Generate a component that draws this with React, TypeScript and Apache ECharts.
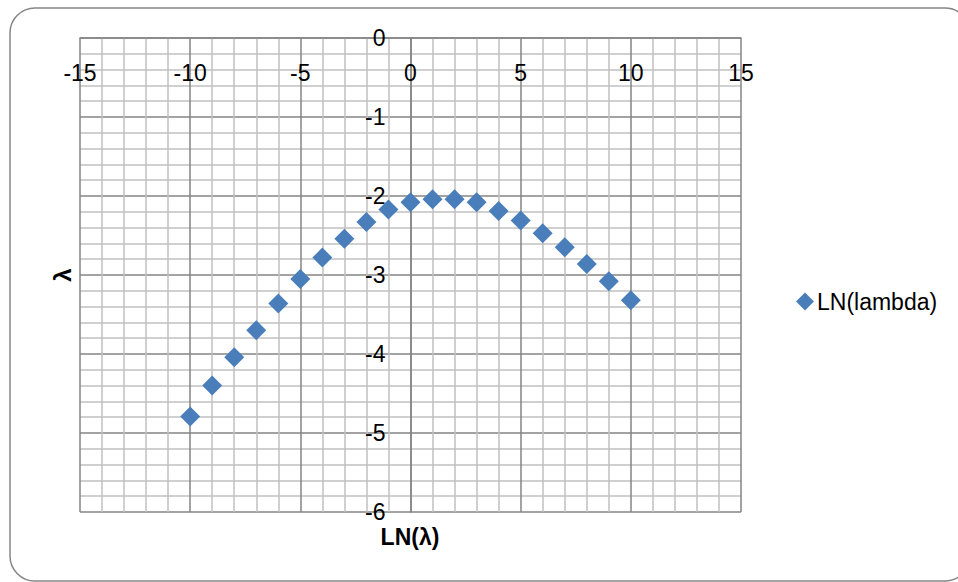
import React, { useEffect, useRef } from "react";
import * as echarts from "echarts";

const xValues: number[] = [-10, -9, -8, -7, -6, -5, -4, -3, -2, -1, 0, 1, 2, 3, 4, 5, 6, 7, 8, 9, 10];
const yValues: number[] = [
  -4.79, -4.4, -4.04, -3.7, -3.36, -3.05, -2.78, -2.54, -2.33, -2.17, -2.08,
  -2.04, -2.04, -2.08, -2.19, -2.31, -2.47, -2.65, -2.86, -3.08, -3.32,
];
const seriesName = "LN(lambda)";
const xTitle = "LN(λ)";
const yTitle = "λ";
const xRange: [number, number] = [-15, 15];
const yRange: [number, number] = [-6, 0];

const FONT = "'Liberation Sans', Arial, sans-serif";
const MAJOR = "#858585";
const MINOR = "#c0c0c0";
const BLUE = "#4a7ebb";

const GRID_LEFT = 80;
const GRID_TOP = 38;
const GRID_W = 661;
const GRID_H = 474;

export default function App() {
  const ref = useRef<HTMLDivElement>(null);
  useEffect(() => {
    if (!ref.current) return;
    const chart = echarts.init(ref.current, null, { renderer: "svg" });
    const data = xValues.map((x, i) => [x, yValues[i]]);
    // y axis crosses at x = 0: shift it from the grid's left edge
    const yAxisShift = ((0 - xRange[0]) / (xRange[1] - xRange[0])) * GRID_W;
    chart.setOption({
      animation: false,
      backgroundColor: "#ffffff",
      textStyle: { fontFamily: FONT },
      grid: { left: GRID_LEFT, top: GRID_TOP, width: GRID_W, height: GRID_H, containLabel: false },
      xAxis: {
        type: "value",
        min: xRange[0],
        max: xRange[1],
        interval: 5,
        position: "top",
        axisLine: { show: true, onZero: false, lineStyle: { color: MAJOR, width: 1.5 } },
        axisTick: { show: false },
        axisLabel: { color: "#000", fontSize: 23, fontFamily: FONT, margin: 23, inside: true },
        splitLine: { show: true, lineStyle: { color: MAJOR, width: 1.5 } },
        minorTick: { show: false, splitNumber: 5 },
        minorSplitLine: { show: true, lineStyle: { color: MINOR, width: 1.5 } },
      },
      yAxis: {
        type: "value",
        min: yRange[0],
        max: yRange[1],
        interval: 1,
        position: "left",
        offset: -yAxisShift,
        axisLine: { show: true, onZero: false, lineStyle: { color: MAJOR, width: 1.5 } },
        axisTick: { show: false },
        axisLabel: { color: "#000", fontSize: 23, fontFamily: FONT, margin: 25 },
        splitLine: { show: true, lineStyle: { color: MAJOR, width: 1.5 } },
        minorTick: { show: false, splitNumber: 5 },
        minorSplitLine: { show: true, lineStyle: { color: MINOR, width: 1.5 } },
      },
      legend: {
        show: true,
        orient: "vertical",
        left: 791,
        top: 285,
        icon: "diamond",
        itemWidth: 18,
        itemHeight: 18,
        itemGap: 5,
        itemStyle: { opacity: 1 },
        textStyle: { color: "#000", fontSize: 23, fontFamily: FONT, padding: [0, 0, 0, -2] },
        data: [seriesName],
      },
      graphic: [
        {
          type: "rect",
          z: -10,
          shape: { x: 10, y: 8, width: 960, height: 573, r: 25 },
          style: { fill: "none", stroke: "#868686", lineWidth: 1.5 },
          silent: true,
        },
        {
          type: "text",
          x: 410,
          y: 537,
          style: {
            text: xTitle,
            fontSize: 23,
            fontWeight: "bold",
            fontFamily: FONT,
            fill: "#000",
            textAlign: "center",
            textVerticalAlign: "middle",
          },
        },
        {
          type: "text",
          x: 62,
          y: 275,
          rotation: Math.PI / 2,
          style: {
            text: yTitle,
            fontSize: 24,
            fontWeight: "bold",
            fontFamily: FONT,
            fill: "#000",
            textAlign: "center",
            textVerticalAlign: "middle",
          },
        },
      ],
      series: [
        {
          name: seriesName,
          type: "scatter",
          symbol: "diamond",
          symbolSize: 20,
          itemStyle: { color: BLUE, opacity: 1 },
          data,
        },
      ],
    });
    return () => chart.dispose();
  }, []);
  return (
    <div
      ref={ref}
      style={{ position: "fixed", left: 0, top: 0, width: 958, height: 582 }}
    />
  );
}
